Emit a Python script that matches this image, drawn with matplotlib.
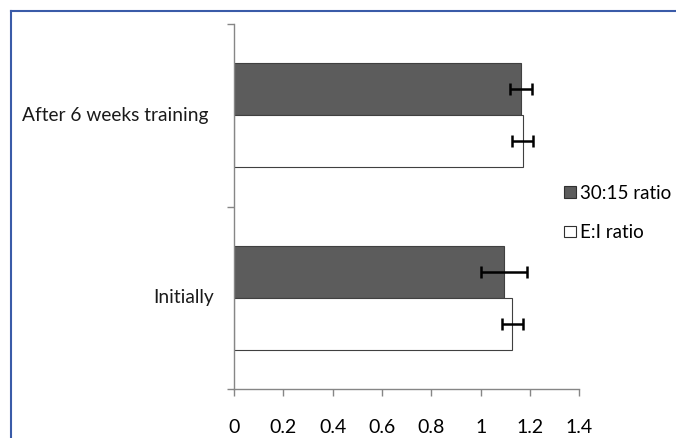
import matplotlib.pyplot as plt
from matplotlib.lines import Line2D
import numpy as np

plt.rcParams['font.family'] = ['Lato', 'DejaVu Sans']

categories = ["Initially", "After 6 weeks training"]
ratio_30_15 = [1.094, 1.164]
ratio_30_15_err = [0.092, 0.045]
ratio_ei = [1.129, 1.170]
ratio_ei_err = [0.043, 0.043]
x_ticks = [0, 0.2, 0.4, 0.6, 0.8, 1, 1.2, 1.4]
x_tick_labels = ["0", "0.2", "0.4", "0.6", "0.8", "1", "1.2", "1.4"]

fig = plt.figure(figsize=(6.76, 4.38), dpi=100)
ax = fig.add_axes([0.346, 0.112, 0.511, 0.833])

y = np.arange(len(categories))
h = 0.285
err_kw = dict(ecolor="black", elinewidth=1.8, capsize=4, capthick=1.8)
ax.barh(y + h / 2, ratio_30_15, height=h, color="#5c5c5c", edgecolor="#404040",
        linewidth=0.8, xerr=ratio_30_15_err, error_kw=err_kw, label="30:15 ratio")
ax.barh(y - h / 2, ratio_ei, height=h, color="white", edgecolor="#404040",
        linewidth=0.8, xerr=ratio_ei_err, error_kw=err_kw, label="E:I ratio")

ax.set_xlim(0, 1.4)
ax.set_ylim(-0.5, 1.5)
ax.set_xticks(x_ticks)
ax.set_xticklabels(x_tick_labels, fontsize=14)
ax.set_yticks([-0.5, 0.5, 1.5])
ax.set_yticklabels([])
ax.tick_params(axis="y", length=5, color="#868686", width=1)
ax.tick_params(axis="x", length=5, color="#868686", width=1, pad=17)
label_offsets = [-0.081, -0.101]
for i, c in enumerate(categories):
    ax.text(label_offsets[i], y[i], c, ha="right", va="center", fontsize=13.8,
            color="#1a1a1a")

for s in ["top", "right"]:
    ax.spines[s].set_visible(False)
for s in ["left", "bottom"]:
    ax.spines[s].set_color("#868686")
    ax.spines[s].set_linewidth(1)

handles = [
    plt.Rectangle((0, 0), 1, 1, facecolor="#5c5c5c", edgecolor="#303030", linewidth=0.8),
    plt.Rectangle((0, 0), 1, 1, facecolor="white", edgecolor="#303030", linewidth=0.8),
]
fig.legend(handles, ["30:15 ratio", "E:I ratio"], loc="upper left",
           bbox_to_anchor=(0.81, 0.617), frameon=False, fontsize=13.5,
           handlelength=0.6, handleheight=0.6, handletextpad=0.25, labelspacing=1.2)

# blue frame of the chart area (partly cropped in the source)
fig.add_artist(Line2D([11 / 676, 1], [1 - 11 / 438] * 2, transform=fig.transFigure,
                      color="#3a5ba8", linewidth=1.5))
fig.add_artist(Line2D([11 / 676] * 2, [0, 1 - 11 / 438], transform=fig.transFigure,
                      color="#3a5ba8", linewidth=1.5))

fig.savefig("out.png", dpi=100)
